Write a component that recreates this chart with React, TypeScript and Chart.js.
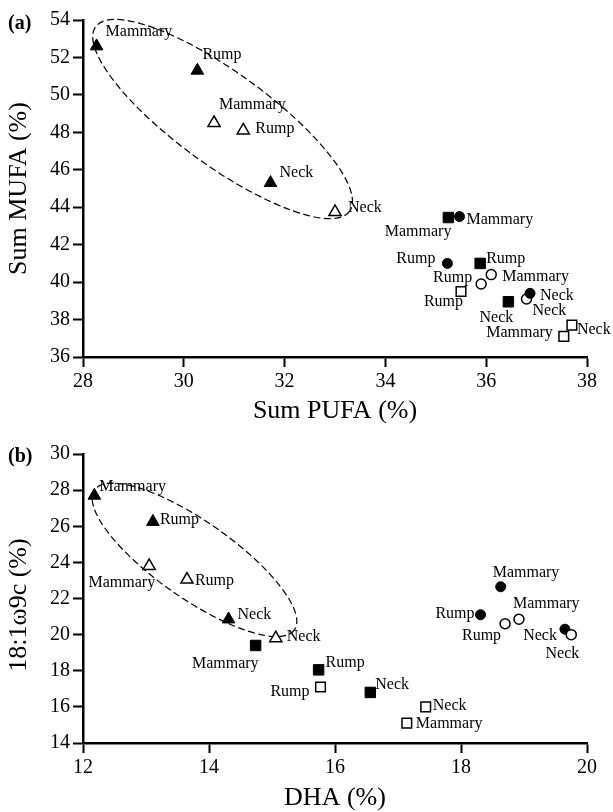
import React, { useEffect, useRef } from 'react';
import { Chart, registerables } from 'chart.js';
Chart.register(...registerables);

// ---------- data ----------
const sites = ['Mammary', 'Rump', 'Neck'];

// Panel (a): Sum PUFA (x) vs Sum MUFA (y)
const aXTicks = [28, 30, 32, 34, 36, 38];
const aYTicks = [36, 38, 40, 42, 44, 46, 48, 50, 52, 54];
const aFilledTriX = [28.27, 30.27, 31.72];
const aFilledTriY = [52.6, 51.3, 45.3];
const aOpenTriX = [30.6, 31.18, 33.0];
const aOpenTriY = [48.5, 48.1, 43.75];
const aFilledSqX = [35.25, 35.88, 36.44];
const aFilledSqY = [43.45, 41.0, 38.95];
const aFilledCirX = [35.47, 35.23, 36.87];
const aFilledCirY = [43.5, 41.0, 39.4];
const aOpenCirX = [36.1, 35.9, 36.8];
const aOpenCirY = [40.4, 39.9, 39.1];
const aOpenSqX = [37.54, 35.5, 37.7];
const aOpenSqY = [37.1, 39.5, 37.7];

// Panel (b): DHA (x) vs 18:1ω9c (y)
const bXTicks = [12, 14, 16, 18, 20];
const bYTicks = [14, 16, 18, 20, 22, 24, 26, 28, 30];
const bFilledTriX = [12.18, 13.11, 14.31];
const bFilledTriY = [27.7, 26.25, 20.85];
const bOpenTriX = [13.05, 13.65, 15.06];
const bOpenTriY = [23.8, 23.05, 19.8];
const bFilledSqX = [14.74, 15.74, 16.56];
const bFilledSqY = [19.4, 18.05, 16.8];
const bOpenSqX = [17.14, 15.77, 17.44];
const bOpenSqY = [15.1, 17.1, 16.0];
const bFilledCirX = [18.63, 18.31, 19.65];
const bFilledCirY = [22.65, 21.1, 20.3];
const bOpenCirX = [18.92, 18.7, 19.75];
const bOpenCirY = [20.85, 20.6, 20.0];

// ---------- label placement (style) ----------
type Off = [number, number, CanvasTextAlign];
const aOff: Record<string, Off[]> = {
  filledTri: [[9, -10, 'left'], [5, -12, 'left'], [9, -6, 'left']],
  openTri: [[5, -14, 'left'], [12, 3, 'left'], [13, 0, 'left']],
  filledSq: [[3, 18, 'right'], [6, 0, 'left'], [-12, 20, 'center']],
  filledCir: [[7, 7, 'left'], [-12, 0, 'right'], [10, 7, 'left']],
  openCir: [[11, 6, 'left'], [-9, -2, 'right'], [6, 16, 'left']],
  openSq: [[-11, 1, 'right'], [2, 15, 'right'], [5, 9, 'left']],
};
const bOff: Record<string, Off[]> = {
  filledTri: [[5, -5, 'left'], [7, 2, 'left'], [9, 0, 'left']],
  openTri: [[6, 21, 'right'], [8, 5, 'left'], [11, 3, 'left']],
  filledSq: [[3, 23, 'right'], [7, -3, 'left'], [5, -3, 'left']],
  openSq: [[9, 5, 'left'], [-11, 9, 'right'], [7, 3, 'left']],
  filledCir: [[-8, -10, 'left'], [-6, 3, 'right'], [-8, 11, 'right']],
  openCir: [[-6, -11, 'left'], [-4, 16, 'right'], [8, 23, 'right']],
};

const FONT = '"Liberation Serif", "Times New Roman", serif';

const pts = (xs: number[], ys: number[]) => xs.map((x, i) => ({ x, y: ys[i] }));

function ds(xs: number[], ys: number[], style: string, filled: boolean, off: Off[]) {
  const r = style === 'triangle' ? (filled ? 7.3 : 7) : style === 'rect' ? (filled ? 7.4 : 6.8) : 5;
  return {
    data: pts(xs, ys),
    pointStyle: style,
    pointRadius: r,
    backgroundColor: filled ? '#000' : '#fff',
    borderColor: '#000',
    borderWidth: filled ? 1 : 1.5,
    showLine: false,
    labels: sites,
    labelOffsets: off,
  };
}

const pointLabelPlugin = {
  id: 'pointLabels',
  afterDatasetsDraw(chart: any) {
    const ctx = chart.ctx;
    ctx.save();
    ctx.font = `16px ${FONT}`;
    ctx.fillStyle = '#000';
    ctx.textBaseline = 'alphabetic';
    chart.data.datasets.forEach((d: any, i: number) => {
      const meta = chart.getDatasetMeta(i);
      meta.data.forEach((el: any, j: number) => {
        const [dx, dy, align] = d.labelOffsets[j];
        ctx.textAlign = align;
        ctx.fillText(d.labels[j], el.x + dx, el.y + dy);
      });
    });
    ctx.restore();
  },
};

const ellipsePlugin = {
  id: 'ellipse',
  beforeDatasetsDraw(chart: any, _a: any, o: any) {
    const { x, y } = chart.scales;
    const ctx = chart.ctx;
    ctx.save();
    ctx.beginPath();
    ctx.setLineDash([7, 3.5]);
    ctx.lineWidth = 1.2;
    ctx.strokeStyle = '#000';
    ctx.ellipse(x.getPixelForValue(o.cx), y.getPixelForValue(o.cy), o.rx, o.ry, (o.angle * Math.PI) / 180, 0, Math.PI * 2);
    ctx.stroke();
    ctx.restore();
  },
};

const panelLabelPlugin = {
  id: 'panelLabel',
  afterDraw(chart: any, _a: any, o: any) {
    const ctx = chart.ctx;
    ctx.save();
    ctx.font = `bold 20px ${FONT}`;
    ctx.fillStyle = '#000';
    ctx.textAlign = 'left';
    ctx.textBaseline = 'alphabetic';
    ctx.fillText(o.text, o.x, o.y);
    ctx.restore();
  },
};

function makeScale(ticks: number[], title: string, isX: boolean, size: number, titlePad: number) {
  return {
    type: 'linear',
    min: ticks[0],
    max: ticks[ticks.length - 1],
    afterBuildTicks: (s: any) => {
      s.ticks = ticks.map((v) => ({ value: v }));
    },
    afterFit: (s: any) => {
      if (isX) s.height = size;
      else s.width = size;
    },
    grid: {
      drawOnChartArea: false,
      drawTicks: true,
      tickLength: 10,
      tickWidth: 2,
      tickColor: '#000',
      color: '#000',
    },
    border: { display: true, color: '#000', width: 2.5 },
    ticks: {
      color: '#000',
      font: { family: FONT, size: 20 },
      padding: 3,
      maxRotation: 0,
      autoSkip: false,
    },
    title: {
      display: true,
      text: title,
      color: '#000',
      font: { family: FONT, size: 26, lineHeight: 1.1 },
      padding: isX ? { top: 0, bottom: titlePad } : { top: titlePad, bottom: 0 },
    },
  };
}

function useChart(ref: React.RefObject<HTMLCanvasElement>, cfg: () => any) {
  useEffect(() => {
    if (!ref.current) return;
    const c = new Chart(ref.current, cfg());
    return () => c.destroy();
  }, []);
}

export default function App() {
  const topRef = useRef<HTMLCanvasElement>(null);
  const botRef = useRef<HTMLCanvasElement>(null);

  useChart(topRef, () => ({
    type: 'scatter',
    data: {
      datasets: [
        ds(aFilledCirX, aFilledCirY, 'circle', true, aOff.filledCir),
        ds(aFilledTriX, aFilledTriY, 'triangle', true, aOff.filledTri),
        ds(aOpenTriX, aOpenTriY, 'triangle', false, aOff.openTri),
        ds(aFilledSqX, aFilledSqY, 'rect', true, aOff.filledSq),
        ds(aOpenCirX, aOpenCirY, 'circle', false, aOff.openCir),
        ds(aOpenSqX, aOpenSqY, 'rect', false, aOff.openSq),
      ],
    },
    options: {
      responsive: false,
      animation: false,
      events: [],
      layout: { padding: { left: 0, right: 26, top: 20, bottom: 0 } },
      plugins: {
        legend: { display: false },
        tooltip: { enabled: false },
        ellipse: { cx: 30.77, cy: 48.71, rx: 157, ry: 46.5, angle: 36 },
        panelLabel: { text: '(a)', x: 8, y: 29 },
      },
      scales: {
        x: makeScale(aXTicks, 'Sum PUFA (%)', true, 73, 5),
        y: makeScale(aYTicks, 'Sum MUFA (%)', false, 83, 5),
      },
    },
    plugins: [ellipsePlugin, pointLabelPlugin, panelLabelPlugin],
  }));

  useChart(botRef, () => ({
    type: 'scatter',
    data: {
      datasets: [
        ds(bOpenCirX, bOpenCirY, 'circle', false, bOff.openCir),
        ds(bFilledCirX, bFilledCirY, 'circle', true, bOff.filledCir),
        ds(bFilledTriX, bFilledTriY, 'triangle', true, bOff.filledTri),
        ds(bOpenTriX, bOpenTriY, 'triangle', false, bOff.openTri),
        ds(bFilledSqX, bFilledSqY, 'rect', true, bOff.filledSq),
        ds(bOpenSqX, bOpenSqY, 'rect', false, bOff.openSq),
      ],
    },
    options: {
      responsive: false,
      animation: false,
      events: [],
      layout: { padding: { left: 0, right: 26, top: 24, bottom: 0 } },
      plugins: {
        legend: { display: false },
        tooltip: { enabled: false },
        ellipse: { cx: 13.77, cy: 24.14, rx: 122, ry: 38.5, angle: 35 },
        panelLabel: { text: '(b)', x: 8, y: 32 },
      },
      scales: {
        x: makeScale(bXTicks, 'DHA (%)', true, 69, 0),
        y: makeScale(bYTicks, '18:1ω9c (%)  ', false, 83, 5),
      },
    },
    plugins: [ellipsePlugin, pointLabelPlugin, panelLabelPlugin],
  }));

  return (
    <div style={{ position: 'absolute', left: 0, top: 0, width: 613, height: 812, background: '#fff' }}>
      <canvas ref={topRef} width={613} height={430} style={{ display: 'block', width: 613, height: 430 }} />
      <canvas ref={botRef} width={613} height={382} style={{ display: 'block', width: 613, height: 382 }} />
    </div>
  );
}
